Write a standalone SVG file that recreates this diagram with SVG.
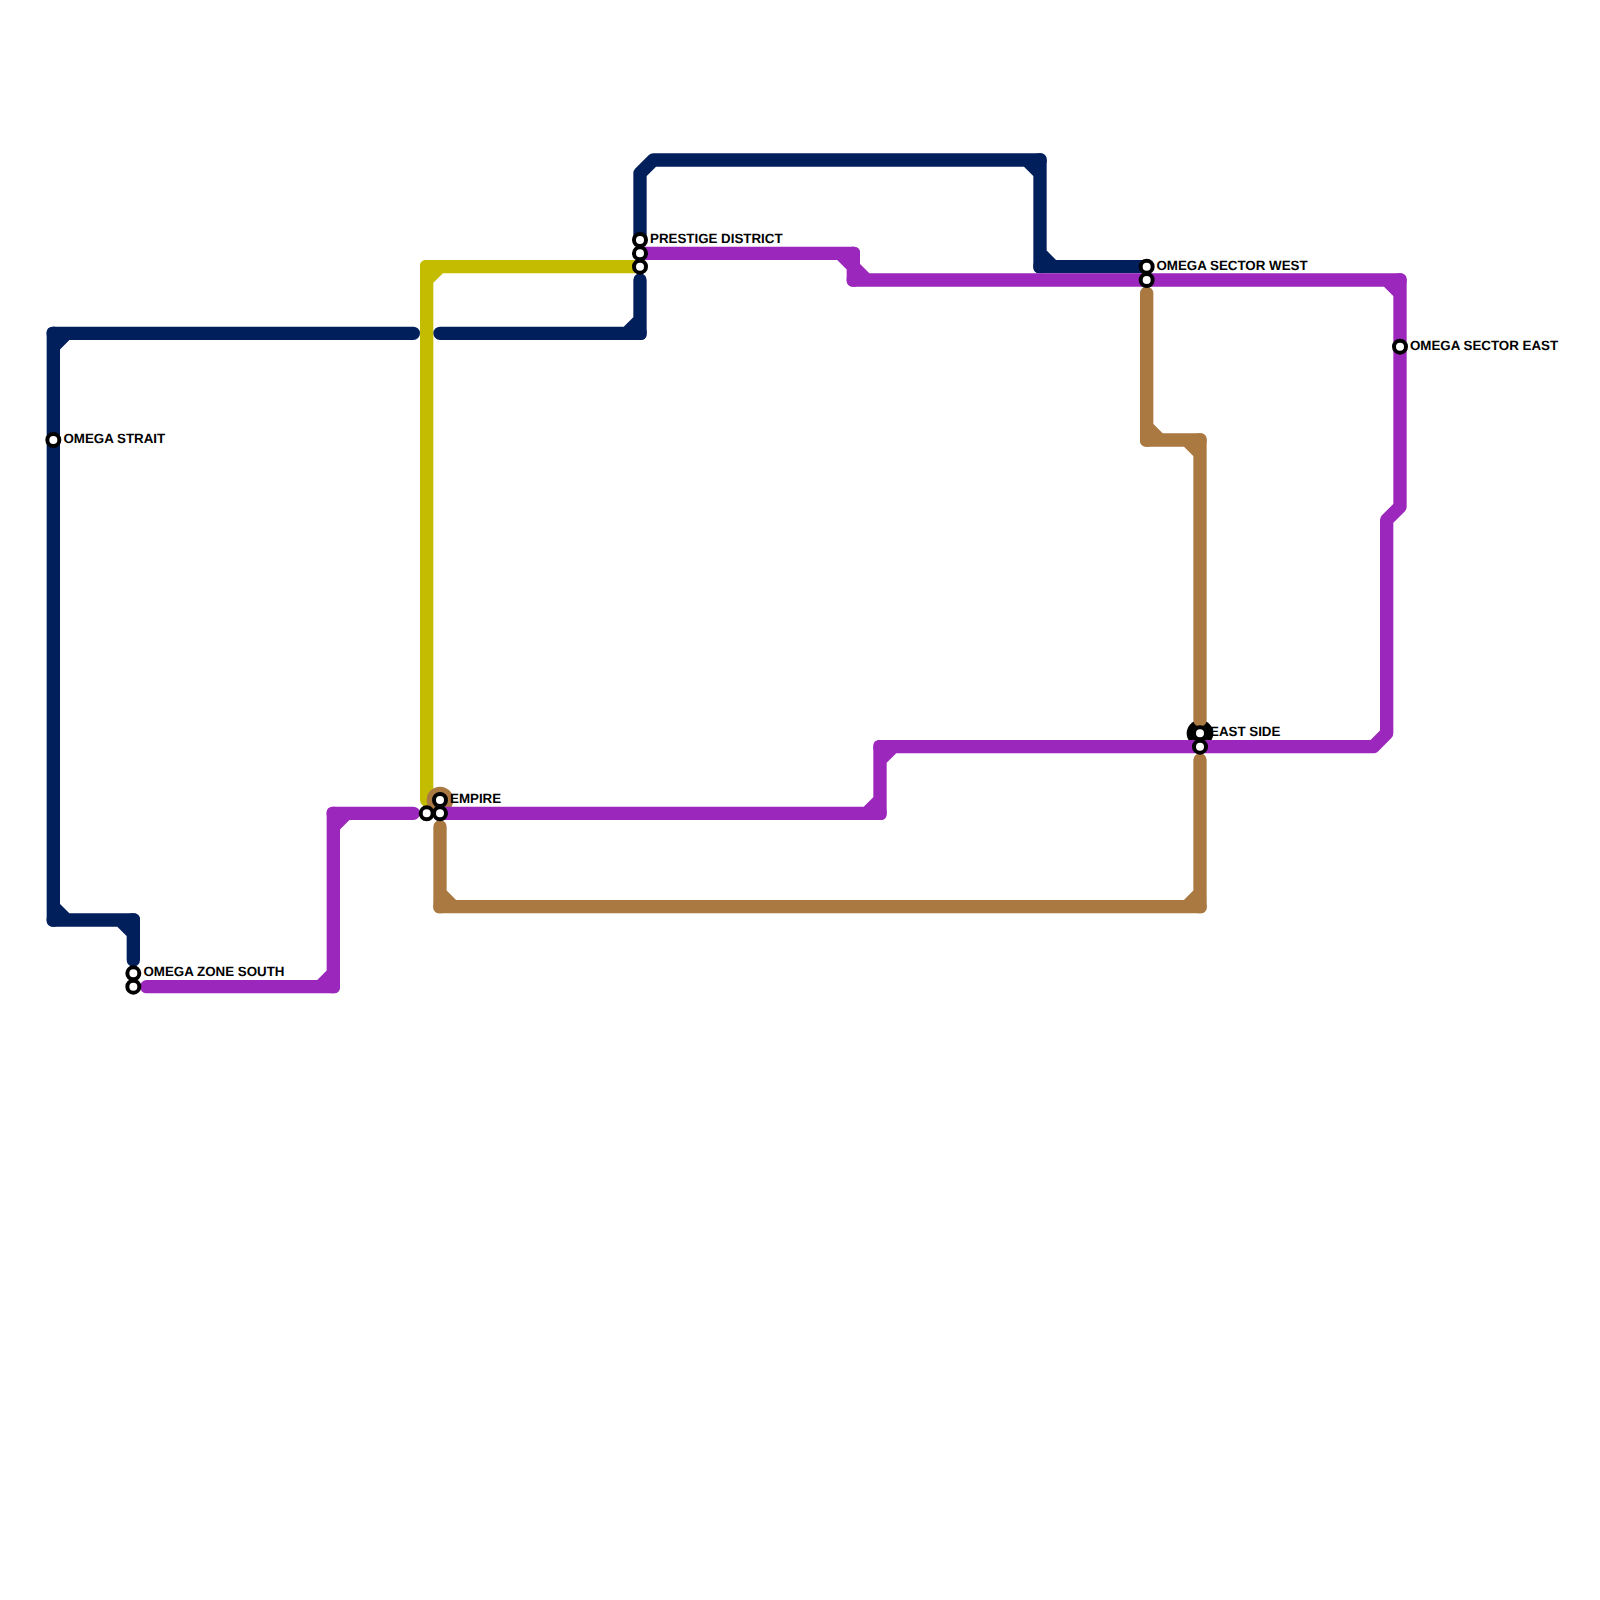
<svg xmlns="http://www.w3.org/2000/svg" width="1600" height="1600" viewBox="0 0 1600 1600">
<style>
.l{fill:none;stroke-width:13.33;stroke-linecap:round;stroke-linejoin:round}
.navy{stroke:#011f5b}.navyf{fill:#011f5b}
.yel{stroke:#c4bc00}.yelf{fill:#c4bc00}
.pur{stroke:#9b27bc}.purf{fill:#9b27bc}
.bro{stroke:#aa7942}.brof{fill:#aa7942}
.st{fill:#fff;stroke:#000;stroke-width:4}
rect.c{rx:5.5px;ry:5.5px}
text{font-family:"Liberation Sans",Arial,sans-serif;font-size:13.33px;font-weight:700;fill:#000;text-rendering:geometricPrecision}
</style>
<rect width="1600" height="1600" fill="#fff"/>
<g id="connectors">
<g id="line-yellow">
<path class="l yel" d="M426.67 800V266.67H640M426.67 280L440 266.67"/>
<rect class="c yelf" x="420" y="260" width="13.33" height="13.33"/>
</g>
<g id="line-navy">
<path class="l navy" d="M413.33 333.33H53.33V920H133.33V960M53.33 346.67L66.67 333.33M53.33 906.67L66.67 920M120 920L133.33 933.33"/>
<path class="l navy" d="M440 333.33H640V280M626.67 333.33L640 320"/>
<path class="l navy" d="M640 240V173.33L653.33 160H1040V266.67H1146.67M1026.67 160L1040 173.33M1040 253.33L1053.33 266.67"/>
<rect class="c navyf" x="46.67" y="326.67" width="13.33" height="13.33"/>
<rect class="c navyf" x="46.67" y="913.33" width="13.33" height="13.33"/>
<rect class="c navyf" x="126.67" y="913.33" width="13.33" height="13.33"/>
<rect class="c navyf" x="633.33" y="326.67" width="13.33" height="13.33"/>
<rect class="c navyf" x="1033.33" y="153.33" width="13.33" height="13.33"/>
<rect class="c navyf" x="1033.33" y="260" width="13.33" height="13.33"/>
</g>
<g id="line-brown">
<circle class="brof" cx="440" cy="800" r="13.33"/>
<circle cx="1200" cy="733.33" r="13.33" fill="#000"/>
<path class="l bro" d="M1146.67 293.33V440H1200V720M1146.67 426.67L1160 440M1186.67 440L1200 453.33"/>
<path class="l bro" d="M1200 760V906.67H440V826.67M1186.67 906.67L1200 893.33M440 893.33L453.33 906.67"/>
<rect class="c brof" x="1140" y="433.33" width="13.33" height="13.33"/>
<rect class="c brof" x="1193.33" y="433.33" width="13.33" height="13.33"/>
<rect class="c brof" x="1193.33" y="900" width="13.33" height="13.33"/>
<rect class="c brof" x="433.33" y="900" width="13.33" height="13.33"/>
</g>
<g id="line-purple">
<path class="l pur" d="M146.67 986.67H333.33V813.33H413.33M320 986.67L333.33 973.33M333.33 826.67L346.67 813.33"/>
<path class="l pur" d="M440 813.33H880V746.67H1373.33L1386.67 733.33V520L1400 506.67V280H853.33V253.33H640M866.67 813.33L880 800M880 760L893.33 746.67M1386.67 280L1400 293.33M840 253.33L853.33 266.67M853.33 266.67L866.67 280"/>
<rect class="c purf" x="326.67" y="980" width="13.33" height="13.33"/>
<rect class="c purf" x="326.67" y="806.67" width="13.33" height="13.33"/>
<rect class="c purf" x="873.33" y="806.67" width="13.33" height="13.33"/>
<rect class="c purf" x="873.33" y="740" width="13.33" height="13.33"/>
<rect class="c purf" x="1393.33" y="273.33" width="13.33" height="13.33"/>
<rect class="c purf" x="846.67" y="273.33" width="13.33" height="13.33"/>
<rect class="c purf" x="846.67" y="246.67" width="13.33" height="13.33"/>
</g>
</g>
<g id="omega-strait"><circle class="st" cx="53.33" cy="440" r="6"/><text x="63.5" y="443.3">OMEGA STRAIT</text></g>
<g id="omega-zone-south"><circle class="st" cx="133.33" cy="973.33" r="6"/><circle class="st" cx="133.33" cy="986.67" r="6"/><text x="143.5" y="976.4">OMEGA ZONE SOUTH</text></g>
<g id="empire"><circle class="st" cx="426.67" cy="813.33" r="6"/><circle class="st" cx="440" cy="813.33" r="6"/><circle class="st" cx="440" cy="800" r="6"/><text x="450" y="803">EMPIRE</text></g>
<g id="prestige-district"><circle class="st" cx="640" cy="240" r="6"/><circle class="st" cx="640" cy="253.33" r="6"/><circle class="st" cx="640" cy="266.67" r="6"/><text x="650" y="243">PRESTIGE DISTRICT</text></g>
<g id="omega-sector-west"><circle class="st" cx="1146.67" cy="266.67" r="6"/><circle class="st" cx="1146.67" cy="280" r="6"/><text x="1156.5" y="269.7">OMEGA SECTOR WEST</text></g>
<g id="east-side"><circle class="st" cx="1200" cy="733.33" r="6"/><circle class="st" cx="1200" cy="746.67" r="6"/><text x="1210" y="736.4">EAST SIDE</text></g>
<g id="omega-sector-east"><circle class="st" cx="1400" cy="346.67" r="6"/><text x="1410" y="349.7">OMEGA SECTOR EAST</text></g>
</svg>
